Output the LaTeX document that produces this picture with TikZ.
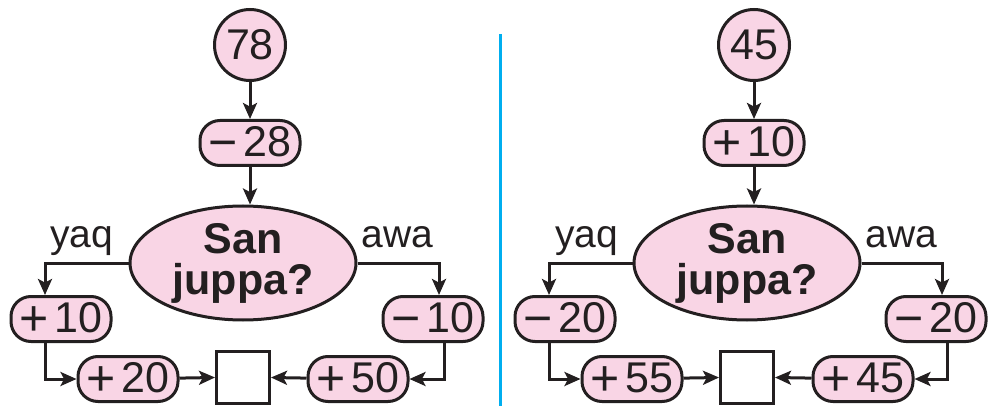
\documentclass[tikz,border=0pt]{standalone}
\usepackage{fontspec}
\setmainfont{Liberation Sans}
\usetikzlibrary{arrows.meta, positioning, shapes.geometric, calc}
\definecolor{boxpink}{RGB}{249,213,229}
\definecolor{inkdark}{RGB}{35,31,32}
\definecolor{rulecyan}{RGB}{0,174,239}
\newcommand{\opsign}[1]{\raisebox{-1.3pt}{\fontsize{25}{24}\selectfont #1}\kern3pt}

\begin{document}
\begin{tikzpicture}[
  x=0.5pt, y=-0.5pt,
  num/.style={rectangle, draw=inkdark, fill=boxpink, line width=1.5pt,
              rounded corners=10pt, minimum width=50pt, minimum height=22.5pt,
              inner sep=0pt, text=inkdark, font=\fontsize{21.5}{24}\selectfont},
  startnode/.style={circle, draw=inkdark, fill=boxpink, line width=1.5pt,
              minimum size=35.5pt, inner sep=0pt, text=inkdark,
              font=\fontsize{21.5}{24}\selectfont},
  ask/.style={ellipse, draw=inkdark, fill=boxpink, line width=1.5pt,
              minimum width=113pt, minimum height=57pt, inner sep=0pt,
              align=center, text=inkdark,
              font=\fontsize{21.5}{20.5}\selectfont\bfseries},
  answer/.style={rectangle, draw=inkdark, fill=white, line width=1.5pt,
              minimum width=26.5pt, minimum height=26pt, inner sep=0pt},
  lbl/.style={anchor=base, inner sep=0pt, text=inkdark,
              font=\fontsize{19.5}{22}\selectfont},
  arrow/.style={-{Stealth[length=8pt, width=7pt, inset=1.8pt]},
                line width=1.5pt, draw=inkdark}
]
\useasboundingbox (0,0) rectangle (989,406);

% left panel
\node[startnode] (a78) at (250,45) {78};
\node[num] (aM28) at (250,143) {\opsign{−}28};
\node[ask] (aAsk) at (243,263) {San\\juppa?};
\node[lbl] (aYaq) at (81.5,248) {yaq};
\node[lbl] (aAwa) at (397.5,248) {awa};
\node[num] (aP10) at (61,319) {\opsign{+}10};
\node[num] (aM10) at (433,319) {\opsign{−}10};
\node[num] (aP20) at (128,379) {\opsign{+}20};
\node[answer] (aBox) at (243,377) {};
\node[num] (aP50) at (358,379) {\opsign{+}50};

\draw[arrow] (a78) -- (aM28);
\draw[arrow] (aM28) -- (aM28 |- aAsk.north);
\draw[arrow] (aAsk.west) -| ([xshift=-8pt]aP10.north);
\draw[arrow] (aAsk.east) -| ([xshift=3pt]aM10.north);
\draw[arrow] ([xshift=-8pt]aP10.south) |- (aP20.west);
\draw[arrow] ([xshift=5.5pt]aM10.south) |- (aP50.east);
\draw[arrow] (aP20) -- (aBox);
\draw[arrow] (aP50) -- (aBox);

% divider
\draw[rulecyan, line width=1.5pt] (500,34) -- (500,406);

% right panel
\node[startnode] (b45) at (754,45) {45};
\node[num] (bP10) at (754,143) {\opsign{+}10};
\node[ask] (bAsk) at (747,263) {San\\juppa?};
\node[lbl] (bYaq) at (586.5,248) {yaq};
\node[lbl] (bAwa) at (901.5,248) {awa};
\node[num] (bM20a) at (565,319) {\opsign{−}20};
\node[num] (bM20b) at (936,319) {\opsign{−}20};
\node[num] (bP55) at (632,379) {\opsign{+}55};
\node[answer] (bBox) at (747,377) {};
\node[num] (bP45) at (863,379) {\opsign{+}45};

\draw[arrow] (b45) -- (bP10);
\draw[arrow] (bP10) -- (bP10 |- bAsk.north);
\draw[arrow] (bAsk.west) -| ([xshift=-8pt]bM20a.north);
\draw[arrow] (bAsk.east) -| ([xshift=3pt]bM20b.north);
\draw[arrow] ([xshift=-8pt]bM20a.south) |- (bP55.west);
\draw[arrow] ([xshift=5.5pt]bM20b.south) |- (bP45.east);
\draw[arrow] (bP55) -- (bBox);
\draw[arrow] (bP45) -- (bBox);

\end{tikzpicture}
\end{document}
